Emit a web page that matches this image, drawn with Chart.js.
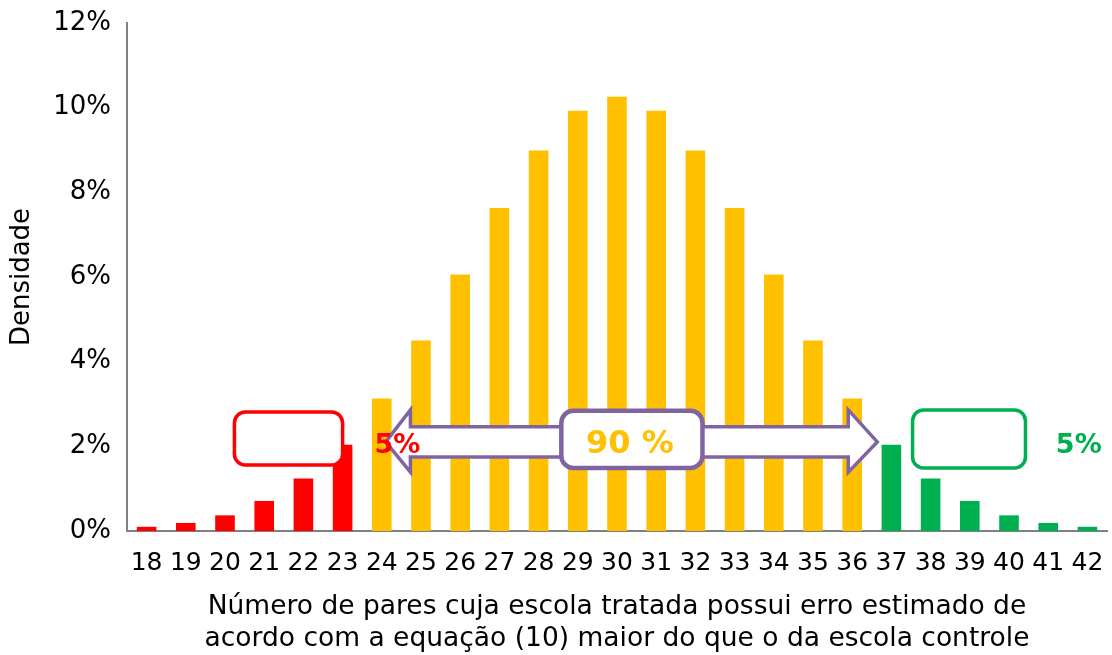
<!DOCTYPE html>
<html>
<head>
<meta charset="utf-8">
<script src="https://cdn.jsdelivr.net/npm/chart.js@4/dist/chart.umd.min.js"></script>
<style>
  html, body { margin: 0; padding: 0; background: #fff; }
  #wrap { width: 1112px; height: 655px; }
</style>
</head>
<body>
<div id="wrap"><canvas id="c" width="1112" height="655"></canvas></div>
<script>
// Number of pairs (x categories)
const pairs = [18, 19, 20, 21, 22, 23, 24, 25, 26, 27, 28, 29, 30,
               31, 32, 33, 34, 35, 36, 37, 38, 39, 40, 41, 42];
// Density of each count
const density = [0.0010, 0.0019, 0.0037, 0.0071, 0.0124, 0.0204, 0.0313, 0.0450, 0.0606,
                 0.0763, 0.0899, 0.0993, 0.1026, 0.0993, 0.0899, 0.0763, 0.0606, 0.0450,
                 0.0313, 0.0204, 0.0124, 0.0071, 0.0037, 0.0019, 0.0010];
// Tail limits: counts at or below lowerTail are the lower 5%, at or above upperTail the upper 5%
const lowerTail = 23;
const upperTail = 37;
// Annotation texts
const lowerLabel = '5%';
const centerLabel = '90 %';
const upperLabel = '5%';
const yTicks = [0, 0.02, 0.04, 0.06, 0.08, 0.10, 0.12];

const RED = '#FF0000', ORANGE = '#FFC000', GREEN = '#00B050', PURPLE = '#8064A2';
const FONT = "'DejaVu Sans', Verdana, sans-serif";

const barColors = pairs.map(p => p <= lowerTail ? RED : (p >= upperTail ? GREEN : ORANGE));

function roundRect(ctx, x0, y0, x1, y1, r) {
  ctx.beginPath();
  ctx.moveTo(x0 + r, y0);
  ctx.lineTo(x1 - r, y0);
  ctx.arcTo(x1, y0, x1, y0 + r, r);
  ctx.lineTo(x1, y1 - r);
  ctx.arcTo(x1, y1, x1 - r, y1, r);
  ctx.lineTo(x0 + r, y1);
  ctx.arcTo(x0, y1, x0, y1 - r, r);
  ctx.lineTo(x0, y0 + r);
  ctx.arcTo(x0, y0, x0 + r, y0, r);
  ctx.closePath();
}

// Callouts: tail boxes, double arrow spanning the central 90% and its label
const callouts = {
  id: 'callouts',
  afterDatasetsDraw(chart) {
    const ctx = chart.ctx;
    const xs = chart.scales.x, ys = chart.scales.y;
    const X = i => xs.getPixelForValue(i);
    const Y = v => ys.getPixelForValue(v);
    ctx.save();

    // lower tail box
    roundRect(ctx, X(2.24), Y(0.0281), X(5.0), Y(0.0156), 11);
    ctx.fillStyle = '#fff'; ctx.fill();
    ctx.lineWidth = 3.5; ctx.strokeStyle = RED; ctx.stroke();

    // upper tail box
    roundRect(ctx, X(19.54), Y(0.0286), X(22.42), Y(0.0149), 11);
    ctx.fillStyle = '#fff'; ctx.fill();
    ctx.lineWidth = 3.5; ctx.strokeStyle = GREEN; ctx.stroke();

    // double arrow
    const xl = X(6.1), xlb = X(6.73), xrb = X(17.9), xr = X(18.64);
    const sT = Y(0.0246), sB = Y(0.0175), hT = Y(0.0286), hB = Y(0.0139);
    const yc = (sT + sB) / 2;
    ctx.beginPath();
    ctx.moveTo(xl, yc);
    ctx.lineTo(xlb, hT);
    ctx.lineTo(xlb, sT);
    ctx.lineTo(xrb, sT);
    ctx.lineTo(xrb, hT);
    ctx.lineTo(xr, yc);
    ctx.lineTo(xrb, hB);
    ctx.lineTo(xrb, sB);
    ctx.lineTo(xlb, sB);
    ctx.lineTo(xlb, hB);
    ctx.closePath();
    ctx.fillStyle = '#fff'; ctx.fill();
    ctx.lineWidth = 3.5; ctx.lineJoin = 'miter'; ctx.strokeStyle = PURPLE; ctx.stroke();

    // central box
    roundRect(ctx, X(10.58), Y(0.0284), X(14.18), Y(0.0149), 12);
    ctx.fillStyle = '#fff'; ctx.fill();
    ctx.lineWidth = 4.5; ctx.strokeStyle = PURPLE; ctx.stroke();

    ctx.textAlign = 'center';
    ctx.textBaseline = 'middle';
    ctx.font = 'bold 32px ' + FONT;
    ctx.fillStyle = ORANGE;
    ctx.fillText(centerLabel, X(12.33), Y(0.0203));

    ctx.font = 'bold 27px ' + FONT;
    ctx.fillStyle = RED;
    ctx.fillText(lowerLabel, X(6.40), Y(0.0200));
    ctx.fillStyle = GREEN;
    ctx.fillText(upperLabel, X(23.78), Y(0.0200));

    ctx.restore();
  }
};

new Chart(document.getElementById('c'), {
  type: 'bar',
  data: {
    labels: pairs.map(String),
    datasets: [{
      data: density,
      backgroundColor: barColors,
      borderWidth: 0,
      barPercentage: 0.5,
      categoryPercentage: 1.0
    }]
  },
  options: {
    responsive: false,
    animation: false,
    layout: { padding: { top: 23, right: 5, bottom: 0, left: 7 } },
    plugins: { legend: { display: false }, tooltip: { enabled: false } },
    scales: {
      x: {
        grid: { display: false, drawTicks: false },
        border: { display: true, color: '#808080', width: 2 },
        ticks: { color: '#000', font: { family: FONT, size: 25 }, padding: 17, maxRotation: 0, autoSkip: false },
        title: {
          display: true,
          text: ['Número de pares cuja escola tratada possui erro estimado de',
                 'acordo com a equação (10) maior do que o da escola controle'],
          color: '#000',
          font: { family: FONT, size: 26.5 },
          padding: { top: 14, bottom: 0 }
        },
        afterFit(scale) {
          scale.height = 124;
          scale.paddingLeft = 0;
          scale.paddingRight = 0;
        }
      },
      y: {
        min: 0, max: 0.12,
        afterBuildTicks(scale) { scale.ticks = yTicks.map(v => ({ value: v })); },
        grid: { display: false, drawTicks: false },
        border: { display: true, color: '#808080', width: 2 },
        ticks: {
          color: '#000', font: { family: FONT, size: 26 }, padding: 16,
          callback: v => Math.round(v * 100) + '%'
        },
        title: {
          display: true, text: 'Densidade', color: '#000',
          font: { family: FONT, size: 26 }, padding: { top: 0, bottom: 4 }
        },
        afterFit(scale) {
          scale.width = 120;
          scale.paddingTop = 0;
          scale.paddingBottom = 0;
        }
      }
    }
  },
  plugins: [callouts]
});
</script>
</body>
</html>
